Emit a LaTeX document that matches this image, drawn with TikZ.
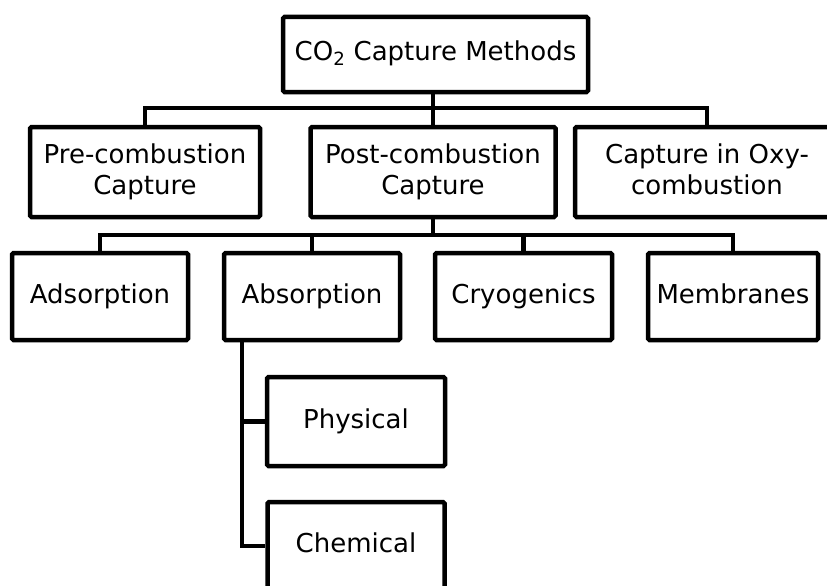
\documentclass[tikz,border=0pt]{standalone}
\usepackage{fontspec}
\setmainfont{DejaVu Sans}
\begin{document}
\begin{tikzpicture}[x=1pt,y=-1pt,
  box/.style={draw=black,line width=4.5pt,rounded corners=1.5pt,inner sep=0pt,
    align=center,font=\fontsize{26}{31.5}\selectfont},
  onebox/.style={box,text height=19pt,text depth=6pt},
  conn/.style={draw=black,line width=4.5pt}]
\useasboundingbox (0,0) rectangle (827,586);
% nodes
\node[onebox,minimum width=305pt,minimum height=75pt] (top) at (435.5,54.5) {CO\textsubscript{2} Capture Methods};
\node[box,minimum width=230pt,minimum height=90pt] (pre) at (145,172) {Pre-combustion\\Capture};
\node[box,minimum width=245pt,minimum height=90pt] (post) at (433,172) {Post-combustion\\Capture};
\node[box,minimum width=264pt,minimum height=90pt] (oxy) at (707,172) {Capture in Oxy-\\combustion\vphantom{p}};
\node[onebox,minimum width=176pt,minimum height=87pt] (ads) at (100,296.5) {Adsorption};
\node[onebox,minimum width=176pt,minimum height=87pt] (abs) at (312,296.5) {Absorption};
\node[onebox,minimum width=177pt,minimum height=87pt] (cryo) at (523.5,296.5) {Cryogenics};
\node[onebox,minimum width=170pt,minimum height=87pt] (mem) at (733,296.5) {Membranes};
\node[onebox,minimum width=178pt,minimum height=89pt] (phys) at (356,421.5) {Physical};
\node[onebox,minimum width=177pt,minimum height=88pt] (chem) at (356,546) {Chemical};
% bus coordinates
\coordinate (bus1) at (433,108);
\coordinate (bus2) at (433,235);
\coordinate (absleg) at (242,340);
% level 1 connectors
\draw[conn] (top.south -| post.north) -- (post.north);
\draw[conn] (pre.north) |- (bus1) -| (oxy.north);
% level 2 connectors
\draw[conn] (post.south) -- (bus2);
\draw[conn] (ads.north) |- (bus2) -| (mem.north);
\draw[conn] (abs.north) -- (abs.north |- bus2);
\draw[conn] (cryo.north) -- (cryo.north |- bus2);
% level 3 connectors
\draw[conn] (absleg) |- (chem.west);
\draw[conn] (absleg |- phys.west) -- (phys.west);
\end{tikzpicture}
\end{document}
